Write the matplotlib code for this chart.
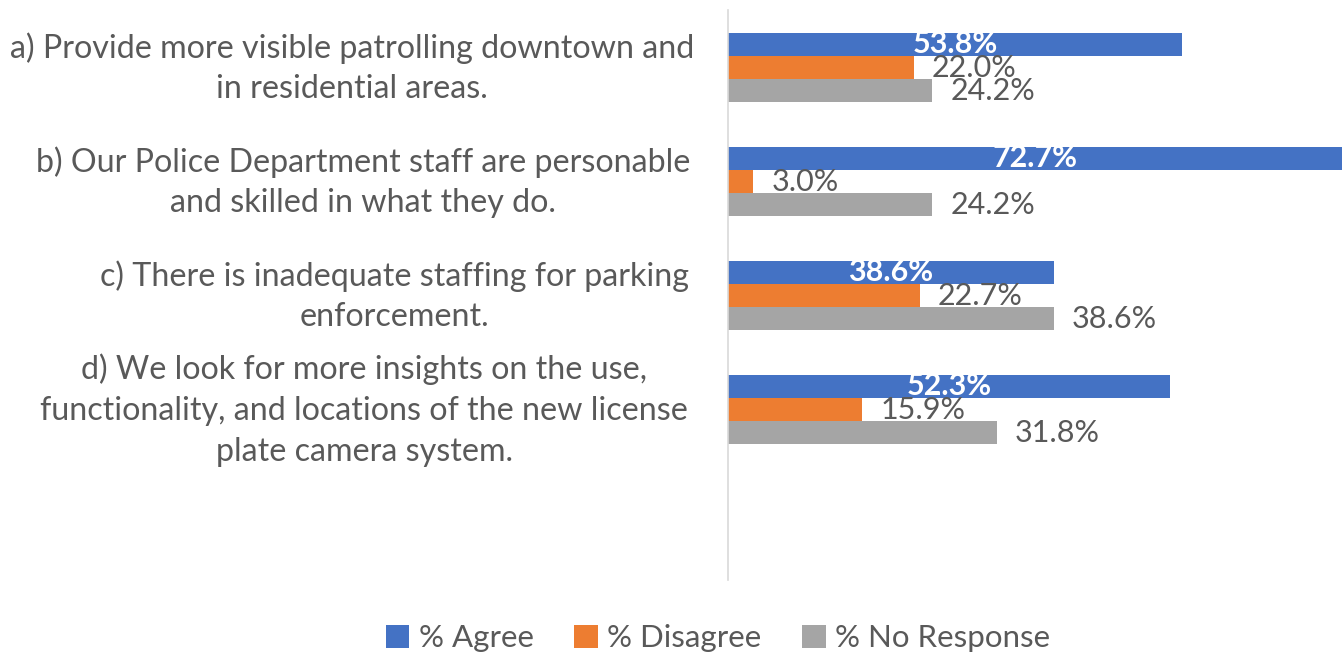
import matplotlib
matplotlib.use("Agg")
import matplotlib.pyplot as plt
import numpy as np

plt.rcParams['font.family'] = ['Lato', 'DejaVu Sans']

categories = [
    "a) Provide more visible patrolling downtown and\nin residential areas.",
    "b) Our Police Department staff are personable\nand skilled in what they do.",
    "c) There is inadequate staffing for parking\nenforcement.",
    "d) We look for more insights on the use,\nfunctionality, and locations of the new license\nplate camera system.",
    "",
]
agree = [53.8, 72.7, 38.6, 52.3, None]
disagree = [22.0, 3.0, 22.7, 15.9, None]
no_response = [24.2, 24.2, 38.6, 31.8, None]
series_names = ["% Agree", "% Disagree", "% No Response"]
colors = ["#4472C4", "#ED7D31", "#A5A5A5"]
label_centers_px = [352, 363, 394, 364, None]

W, H = 1342, 656
fig = plt.figure(figsize=(W / 100, H / 100), dpi=100)
ax = fig.add_axes([728 / W, (H - 580) / H, (W - 728) / W, 570 / H])

n = len(categories)
y = np.arange(n)
bh = 23 / 114
series = [agree, disagree, no_response]
text_color = "#595959"
for i, (vals, name, col) in enumerate(zip(series, series_names, colors)):
    ys = [yy + (i - 1) * bh for yy, v in zip(y, vals) if v is not None]
    vs = [v for v in vals if v is not None]
    ax.barh(ys, vs, height=bh, color=col, label=name)
    for yy, v in zip(ys, vs):
        if i == 0:
            ax.text(v / 2, yy, f"{v:.1f}%", ha='center', va='center',
                    color='white', fontsize=22, fontweight='bold')
        else:
            ax.annotate(f"{v:.1f}%", xy=(v, yy), xytext=(13, -1),
                        textcoords='offset points', ha='left', va='center',
                        color=text_color, fontsize=22)

ax.set_xlim(0, 72.7)
ax.set_ylim(n - 0.5, -0.5)
ax.set_xticks([])
ax.set_yticks([])
for s in ['top', 'right', 'bottom']:
    ax.spines[s].set_visible(False)
ax.spines['left'].set_color('#D9D9D9')
ax.spines['left'].set_linewidth(1.2)

trans = matplotlib.transforms.blended_transform_factory(fig.transFigure, ax.transData)
for cat, yy, cx in zip(categories, y, label_centers_px):
    if not cat:
        continue
    ax.text(cx / W, yy + 0.01, cat, transform=trans,
            ha='center', va='center', multialignment='center', fontsize=23.2,
            color=text_color, linespacing=1.45)

leg = fig.legend(loc='center', bbox_to_anchor=(718 / W, (H - 638) / H), ncol=3,
                 frameon=False, fontsize=22.5, handlelength=0.75, handleheight=0.75,
                 handletextpad=0.3, columnspacing=1.3)
for t in leg.get_texts():
    t.set_color(text_color)

fig.savefig("out.png", dpi=100)
